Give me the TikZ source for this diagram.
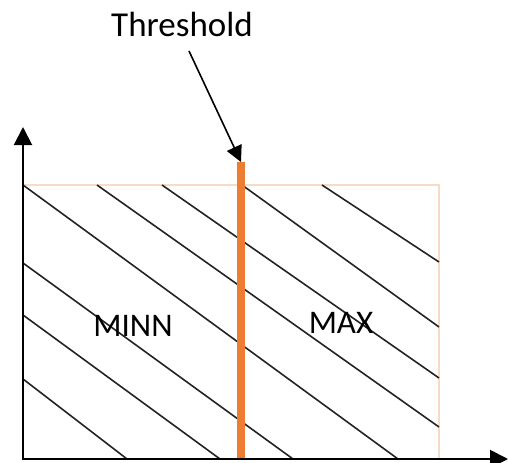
\documentclass[tikz,border=0pt]{standalone}
\usepackage{fontspec}
\setmainfont{Carlito}
\usetikzlibrary{arrows.meta}
\definecolor{thrbar}{RGB}{237,125,49}
\definecolor{boxedge}{RGB}{246,220,200}
\definecolor{hatchc}{RGB}{35,35,35}
\tikzset{
  axisline/.style={line width=2pt, black, -{Triangle[length=18pt,width=18pt]}},
  hatchline/.style={line width=1.6pt, hatchc},
  pointer/.style={line width=1.6pt, black, -{Triangle[length=16pt,width=16pt]}},
  lbl/.style={font=\fontsize{33}{36}\selectfont, anchor=base, inner sep=0pt},
}
\begin{document}
\begin{tikzpicture}[x=1pt,y=-1pt]
\useasboundingbox (0,0) rectangle (509,463);
% region
\coordinate (o) at (23,459);
\coordinate (tl) at (23,185);
\coordinate (tr) at (439,185);
\coordinate (br) at (439,459);
\draw[boxedge, line width=1.2pt] (tl) -- (tr) -- (br);
% hatching
\draw[hatchline] (322,185) -- (439,262);
\draw[hatchline] (242,185) -- (439,327);
\draw[hatchline] (162,185) -- (439,378);
\draw[hatchline] (97,185) -- (439,427);
\draw[hatchline] (23,185) -- (398,459);
\draw[hatchline] (23,263) -- (293,459);
\draw[hatchline] (23,315) -- (220,459);
\draw[hatchline] (23,379) -- (127,459);
% threshold bar
\coordinate (bartop) at (241,162);
\coordinate (barbot) at (241,459);
\draw[thrbar, line width=8pt] (barbot) -- (bartop);
% axes
\coordinate (ytip) at (23,127);
\coordinate (xtip) at (508,459);
\draw[axisline] ([yshift=-1pt]o) -- (ytip);
\draw[axisline] ([xshift=-1pt]o) -- (xtip);
% labels
\node[lbl, font=\fontsize{35}{38}\selectfont] (thr) at (182,36) {Threshold};
\coordinate (pstart) at (189,51);
\draw[pointer] (pstart) -- (bartop);
\node[lbl] (minn) at (133,336) {MINN};
\node[lbl] (max) at (341,333) {MAX};
\end{tikzpicture}
\end{document}
